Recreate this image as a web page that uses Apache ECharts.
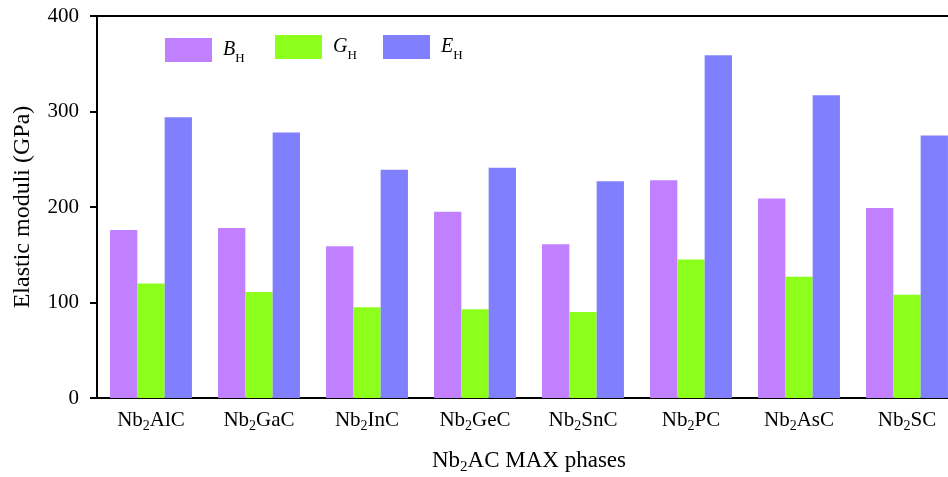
<!DOCTYPE html>
<html>
<head>
<meta charset="utf-8">
<script src="https://cdn.jsdelivr.net/npm/echarts@6/dist/echarts.min.js"></script>
<style>
html,body{margin:0;padding:0;background:#fff;}
#chart{width:948px;height:477px;}
</style>
</head>
<body>
<div id="chart"></div>
<script>
// Data
var elements = ['Al', 'Ga', 'In', 'Ge', 'Sn', 'P', 'As', 'S'];
var categories = elements.map(function (e) { return 'Nb2' + e + 'C'; });
var seriesNames = ['BH', 'GH', 'EH'];
var bulkModulus = [176, 178, 159, 195, 161, 228, 209, 199];
var shearModulus = [120, 111, 95, 93, 90, 145, 127, 108];
var youngModulus = [294, 278, 239, 241, 227, 359, 317, 275];
var yTicks = [0, 100, 200, 300, 400];

var FONT = '"Liberation Serif", "Times New Roman", serif';
var colors = ['#C080FF', '#8CFF1A', '#8080FF'];

var chart = echarts.init(document.getElementById('chart'));

function legendFor(name, left, top) {
  return {
    data: [name],
    left: left,
    top: top,
    padding: 0,
    itemWidth: 47,
    itemHeight: 24,
    icon: 'rect',
    selectedMode: false,
    formatter: function (n) { return '{n|' + n.charAt(0) + '}{s|' + n.charAt(1) + '}'; },
    textStyle: {
      fontFamily: FONT,
      rich: {
        n: { fontFamily: FONT, fontSize: 20, fontStyle: 'italic', color: '#000', lineHeight: 20, verticalAlign: 'top', padding: [0, 0, 0, 6] },
        s: { fontFamily: FONT, fontSize: 13, color: '#000', lineHeight: 13, verticalAlign: 'top', padding: [12, 0, 0, 0] }
      }
    }
  };
}

var option = {
  backgroundColor: '#fff',
  animation: false,
  color: colors,
  grid: {
    left: 97, top: 16, width: 864, height: 382,
    outerBoundsMode: 'none',
    containLabel: false,
    show: true, borderColor: '#000', borderWidth: 2, backgroundColor: 'transparent'
  },
  legend: [
    legendFor(seriesNames[0], 165, 38),
    legendFor(seriesNames[1], 275, 35),
    legendFor(seriesNames[2], 383, 35)
  ],
  xAxis: {
    type: 'category',
    data: categories,
    axisLine: { lineStyle: { color: '#000', width: 2 } },
    axisTick: { show: false },
    axisLabel: {
      margin: 10,
      interval: 0,
      hideOverlap: false,
      formatter: function (v) {
        return '{n|Nb}{s|2}{n|' + v.slice(3) + '}';
      },
      rich: {
        n: { fontFamily: FONT, fontSize: 21, color: '#000', lineHeight: 25 },
        s: { fontFamily: FONT, fontSize: 14, color: '#000', lineHeight: 14, verticalAlign: 'bottom' }
      }
    },
    name: '{n|Nb}{s|2}{n|AC MAX phases}',
    nameLocation: 'middle',
    nameGap: 48,
    nameTextStyle: {
      rich: {
        n: { fontFamily: FONT, fontSize: 23, color: '#000', lineHeight: 29 },
        s: { fontFamily: FONT, fontSize: 15, color: '#000', lineHeight: 15, verticalAlign: 'bottom' }
      }
    }
  },
  yAxis: {
    type: 'value',
    min: yTicks[0],
    max: yTicks[yTicks.length - 1],
    interval: yTicks[1] - yTicks[0],
    axisLine: { show: true, lineStyle: { color: '#000', width: 2 } },
    axisTick: { show: true, inside: false, length: 7, lineStyle: { color: '#000', width: 2 } },
    splitLine: { show: false },
    axisLabel: { margin: 18, fontFamily: FONT, fontSize: 21, color: '#000' },
    name: 'Elastic moduli (GPa)',
    nameLocation: 'middle',
    nameGap: 62,
    nameTextStyle: { fontFamily: FONT, fontSize: 24, color: '#000' }
  },
  series: [
    { name: seriesNames[0], type: 'bar', data: bulkModulus, barWidth: 27.3, barGap: '0%' },
    { name: seriesNames[1], type: 'bar', data: shearModulus, barWidth: 27.3, barGap: '0%' },
    { name: seriesNames[2], type: 'bar', data: youngModulus, barWidth: 27.3, barGap: '0%' }
  ]
};
chart.setOption(option);
</script>
</body>
</html>
